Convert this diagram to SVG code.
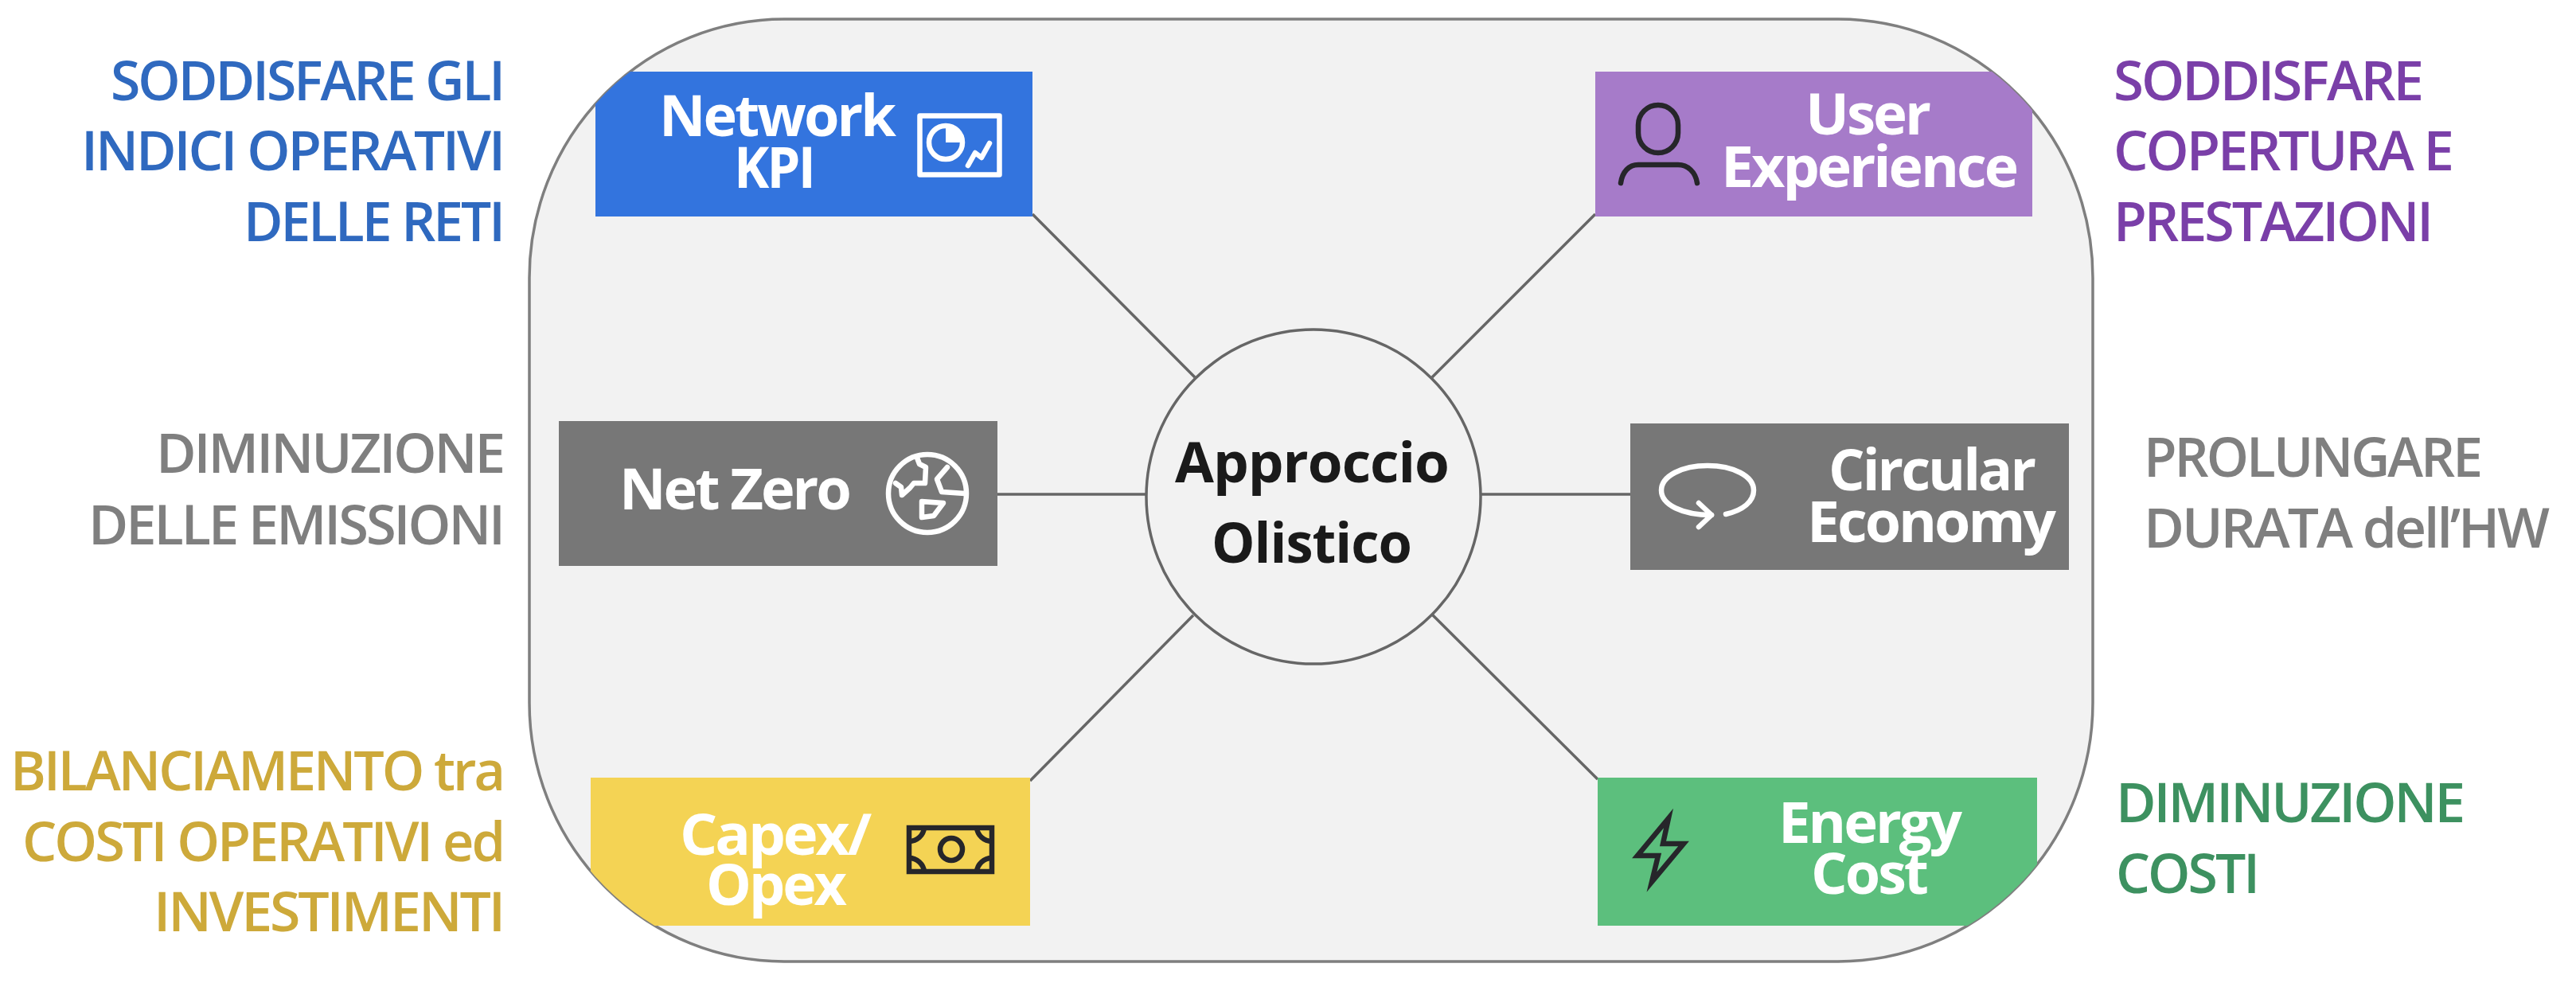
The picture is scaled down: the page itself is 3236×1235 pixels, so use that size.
<svg xmlns="http://www.w3.org/2000/svg" width="3236" height="1235" viewBox="0 0 3236 1235">
<style>
text{font-family:"Open Sans","Noto Sans","Liberation Sans",sans-serif;font-weight:600}
.lab{font-size:68px;letter-spacing:-3px}
.nt{font-size:72px;fill:#fff;font-weight:700;letter-spacing:-3px}
.ct{font-size:69px;fill:#1a1a1a;font-weight:700;letter-spacing:-1px}
.blue{fill:#2f69bf}.gray{fill:#7f7f7f}.gold{fill:#cda93a}.purple{fill:#7a3fa8}.green{fill:#3d9160}
.conn{stroke:#666;stroke-width:3.5;fill:none}
.iw{fill:none;stroke:#fff;stroke-width:6.5;stroke-linejoin:round;stroke-linecap:round}
.id{fill:none;stroke:#26262a;stroke-width:6.5;stroke-miterlimit:10}
</style>
<defs>
<clipPath id="panelClip"><rect x="665" y="24" width="1964" height="1184" rx="320" ry="325"/></clipPath>
</defs>
<g id="panel"><rect x="665" y="24" width="1964" height="1184" rx="320" ry="325" fill="#f2f2f2" stroke="#7f7f7f" stroke-width="3.5"/></g>
<g id="connectors">
<line class="conn" x1="1297" y1="269" x2="1501" y2="474"/>
<line class="conn" x1="2004" y1="269" x2="1799" y2="474"/>
<line class="conn" x1="1253" y1="621" x2="1440" y2="621"/>
<line class="conn" x1="1860" y1="621" x2="2048" y2="621"/>
<line class="conn" x1="1294" y1="981" x2="1499" y2="773"/>
<line class="conn" x1="2007" y1="979" x2="1799" y2="772"/>
</g>
<g id="center"><circle cx="1650" cy="624" r="210" fill="#f2f2f2" stroke="#666" stroke-width="3.5"/>
<text class="ct" x="1476" y="606" textLength="344" lengthAdjust="spacingAndGlyphs">Approccio</text>
<text class="ct" x="1522" y="707" textLength="251" lengthAdjust="spacingAndGlyphs">Olistico</text></g>
<g id="node-network-kpi">
<rect x="748" y="90" width="549" height="182" fill="#3374de" clip-path="url(#panelClip)"/>
<text class="nt" x="828" y="171" textLength="295" lengthAdjust="spacingAndGlyphs">Network</text>
<text class="nt" x="922" y="236" textLength="100" lengthAdjust="spacingAndGlyphs">KPI</text>
<rect class="iw" x="1155.5" y="145.5" width="100" height="74" stroke-linejoin="miter"/>
<circle class="iw" cx="1188" cy="179" r="21"/>
<path d="M1188 158V179H1209A21 21 0 0 0 1188 158Z" fill="#fff"/>
<path class="iw" d="M1216 208L1225 192L1233 198L1243 180"/>
</g>
<g id="node-user-experience">
<rect x="2004" y="90" width="549" height="182" fill="#a67bc9" clip-path="url(#panelClip)"/>
<text class="nt" x="2268" y="169" textLength="155" lengthAdjust="spacingAndGlyphs">User</text>
<text class="nt" x="2162" y="235" textLength="371" lengthAdjust="spacingAndGlyphs">Experience</text>
<rect class="id" x="2058" y="132" width="50" height="60" rx="25" ry="25"/>
<path class="id" d="M2036 230C2038 216 2046 207 2058 207H2108C2120 207 2130 216 2132 230" stroke-linecap="round"/>
</g>
<g id="node-net-zero">
<rect x="702" y="529" width="551" height="182" fill="#777"/>
<text class="nt" x="778" y="640" textLength="289" lengthAdjust="spacingAndGlyphs">Net Zero</text>
<circle class="iw" cx="1165" cy="620" r="49"/>
<path class="iw" d="M1125 607L1132 612L1133 622L1143 613L1148 607L1162 607L1163 587L1155 583L1152 575"/>
<path class="iw" d="M1190 587L1177 602L1183 618L1212 620"/>
<path class="iw" d="M1158 630L1185 632L1173 648L1158 650Z"/>
</g>
<g id="node-circular-economy">
<rect x="2048" y="532" width="551" height="184" fill="#777"/>
<text class="nt" x="2297" y="616" textLength="258" lengthAdjust="spacingAndGlyphs">Circular</text>
<text class="nt" x="2270" y="681" textLength="310" lengthAdjust="spacingAndGlyphs">Economy</text>
<path class="iw" d="M2168 646C2190 641 2203 630 2203 616C2203 598 2177 585 2145 585C2113 585 2087 598 2087 616C2087 634 2113 647 2150 647" />
<path class="iw" d="M2134 632L2150 647L2134 662"/>
</g>
<g id="node-capex-opex">
<rect x="742" y="977" width="552" height="186" fill="#f4d354" clip-path="url(#panelClip)"/>
<text class="nt" x="854" y="1074" textLength="238" lengthAdjust="spacingAndGlyphs">Capex/</text>
<text class="nt" x="887" y="1137" textLength="174" lengthAdjust="spacingAndGlyphs">Opex</text>
<rect class="id" x="1142" y="1040" width="104" height="55"/>
<circle class="id" cx="1195" cy="1067" r="14"/>
<path class="id" d="M1161 1040A19 19 0 0 1 1142 1057M1227 1040A19 19 0 0 0 1246 1057M1161 1095A19 19 0 0 0 1142 1078M1227 1095A19 19 0 0 1 1246 1078"/>
</g>
<g id="node-energy-cost">
<rect x="2007" y="977" width="552" height="186" fill="#5cbf7d" clip-path="url(#panelClip)"/>
<text class="nt" x="2234" y="1059" textLength="228" lengthAdjust="spacingAndGlyphs">Energy</text>
<text class="nt" x="2275" y="1123" textLength="145" lengthAdjust="spacingAndGlyphs">Cost</text>
<path class="id" d="M2096 1028L2057 1075H2083L2075 1108L2115 1060H2089Z" stroke-linejoin="miter"/>
</g>
<g id="labels">
<text class="lab blue" x="139" y="126" textLength="493" lengthAdjust="spacingAndGlyphs">SODDISFARE GLI</text>
<text class="lab blue" x="102" y="214" textLength="530" lengthAdjust="spacingAndGlyphs">INDICI OPERATIVI</text>
<text class="lab blue" x="306" y="303" textLength="326" lengthAdjust="spacingAndGlyphs">DELLE RETI</text>
<text class="lab gray" x="196" y="594" textLength="436" lengthAdjust="spacingAndGlyphs">DIMINUZIONE</text>
<text class="lab gray" x="111" y="684" textLength="521" lengthAdjust="spacingAndGlyphs">DELLE EMISSIONI</text>
<text class="lab gold" x="13" y="993" textLength="619" lengthAdjust="spacingAndGlyphs">BILANCIAMENTO tra</text>
<text class="lab gold" x="28" y="1082" textLength="604" lengthAdjust="spacingAndGlyphs">COSTI OPERATIVI ed</text>
<text class="lab gold" x="193" y="1170" textLength="439" lengthAdjust="spacingAndGlyphs">INVESTIMENTI</text>
<text class="lab purple" x="2655" y="126" textLength="387" lengthAdjust="spacingAndGlyphs">SODDISFARE</text>
<text class="lab purple" x="2655" y="214" textLength="425" lengthAdjust="spacingAndGlyphs">COPERTURA E</text>
<text class="lab purple" x="2655" y="303" textLength="399" lengthAdjust="spacingAndGlyphs">PRESTAZIONI</text>
<text class="lab gray" x="2693" y="599" textLength="423" lengthAdjust="spacingAndGlyphs">PROLUNGARE</text>
<text class="lab gray" x="2693" y="688" textLength="507" lengthAdjust="spacingAndGlyphs">DURATA dell’HW</text>
<text class="lab green" x="2658" y="1033" textLength="436" lengthAdjust="spacingAndGlyphs">DIMINUZIONE</text>
<text class="lab green" x="2658" y="1122" textLength="178" lengthAdjust="spacingAndGlyphs">COSTI</text>
</g>
</svg>
